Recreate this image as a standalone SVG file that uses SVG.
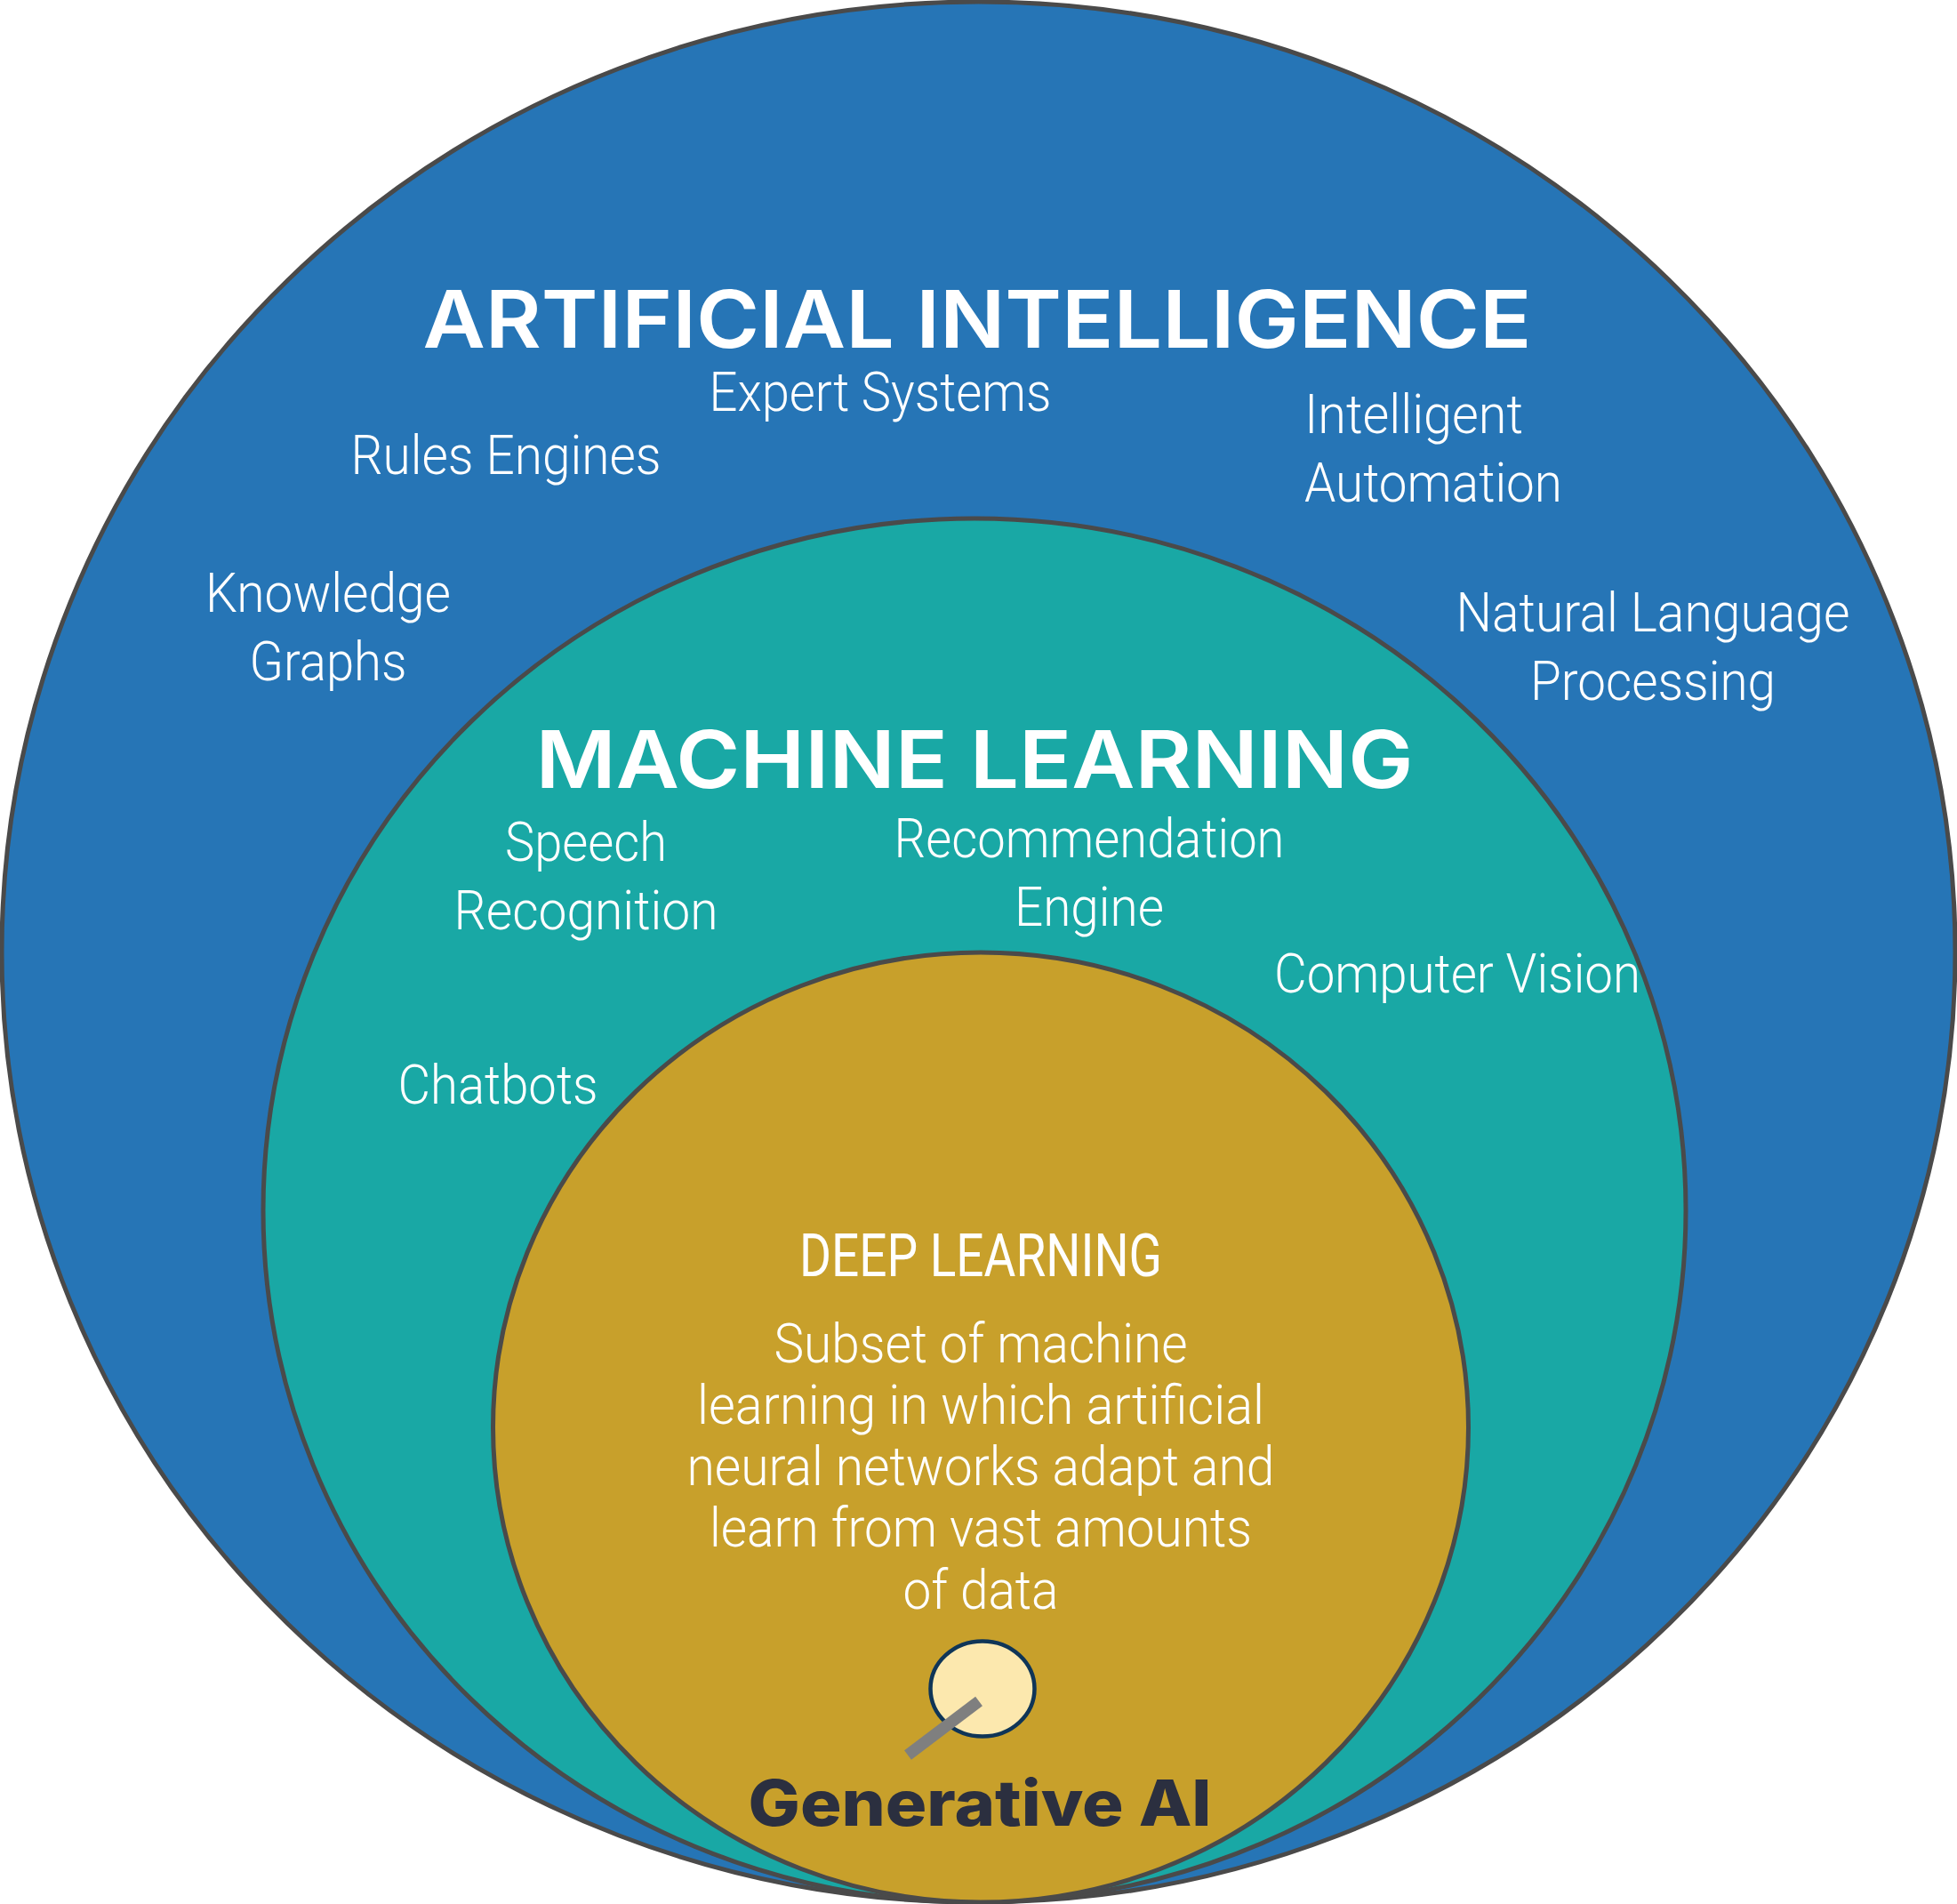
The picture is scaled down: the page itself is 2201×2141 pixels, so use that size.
<svg xmlns="http://www.w3.org/2000/svg" width="2201" height="2141" viewBox="0 0 2201 2141">
<style>
.c{stroke:#4a4a4a;stroke-width:5}
.t{font-family:Roboto,"Liberation Sans",sans-serif;font-weight:300;font-size:62px;fill:#fff;text-anchor:middle}
.s{text-anchor:start}
.h{font-family:Inter,"Open Sans",sans-serif;font-weight:600;font-size:89px;fill:#fff;text-anchor:middle}
.g{font-family:Inter,"Open Sans",sans-serif;font-weight:800;font-size:71px;fill:#2b2f3f;text-anchor:middle}
</style>
<g id="ai"><ellipse class="c" cx="1100.500" cy="1070.500" rx="1098.500" ry="1068.500" fill="#2675b6"/>
<text class="h" x="1099" y="391" textLength="1247" lengthAdjust="spacingAndGlyphs">ARTIFICIAL INTELLIGENCE</text>
<text class="t" x="990" y="462" textLength="385" lengthAdjust="spacingAndGlyphs">Expert Systems</text>
<text class="t" x="569" y="533" textLength="349" lengthAdjust="spacingAndGlyphs">Rules Engines</text>
<text class="t s" x="1467" y="487" textLength="246" lengthAdjust="spacingAndGlyphs">Intelligent</text>
<text class="t s" x="1467" y="564" textLength="290" lengthAdjust="spacingAndGlyphs">Automation</text>
<text class="t" x="369" y="688" textLength="276" lengthAdjust="spacingAndGlyphs">Knowledge</text>
<text class="t" x="369" y="765" textLength="177" lengthAdjust="spacingAndGlyphs">Graphs</text>
<text class="t" x="1859" y="710" textLength="443" lengthAdjust="spacingAndGlyphs">Natural Language</text>
<text class="t" x="1859" y="787" textLength="276" lengthAdjust="spacingAndGlyphs">Processing</text></g>
<g id="ml"><ellipse class="c" cx="1096" cy="1361" rx="800" ry="778" fill="#19a8a5"/>
<text class="h" x="1096" y="886" textLength="987" lengthAdjust="spacingAndGlyphs">MACHINE LEARNING</text>
<text class="t" x="659" y="968" textLength="182" lengthAdjust="spacingAndGlyphs">Speech</text>
<text class="t" x="659" y="1045" textLength="297" lengthAdjust="spacingAndGlyphs">Recognition</text>
<text class="t" x="1225" y="964" textLength="439" lengthAdjust="spacingAndGlyphs">Recommendation</text>
<text class="t" x="1225" y="1041" textLength="168" lengthAdjust="spacingAndGlyphs">Engine</text>
<text class="t" x="1639" y="1116" textLength="412" lengthAdjust="spacingAndGlyphs">Computer Vision</text>
<text class="t" x="560" y="1241" textLength="225" lengthAdjust="spacingAndGlyphs">Chatbots</text></g>
<g id="dl"><ellipse class="c" cx="1103" cy="1605" rx="548.500" ry="534" fill="#c8a02b"/>
<text class="t" x="1103" y="1435" style="font-weight:400;font-size:66px" textLength="408" lengthAdjust="spacingAndGlyphs">DEEP LEARNING</text>
<text class="t" x="1103" y="1532" textLength="465" lengthAdjust="spacingAndGlyphs">Subset of machine</text>
<text class="t" x="1103" y="1601" textLength="638" lengthAdjust="spacingAndGlyphs">learning in which artificial</text>
<text class="t" x="1103" y="1670" textLength="661" lengthAdjust="spacingAndGlyphs">neural networks adapt and</text>
<text class="t" x="1103" y="1739" textLength="610" lengthAdjust="spacingAndGlyphs">learn from vast amounts</text>
<text class="t" x="1103" y="1809" textLength="175" lengthAdjust="spacingAndGlyphs">of data</text></g>
<g id="gen"><ellipse cx="1105" cy="1899" rx="58.500" ry="53.500" fill="#fce8ae" stroke="#0f3557" stroke-width="4.500"/>
<text class="g" x="1102" y="2053" textLength="521" lengthAdjust="spacingAndGlyphs">Generative AI</text></g>
<g id="connectors"><line x1="1101" y1="1913" x2="1021" y2="1973.500" stroke="#7f7f7f" stroke-width="13"/></g>
</svg>
